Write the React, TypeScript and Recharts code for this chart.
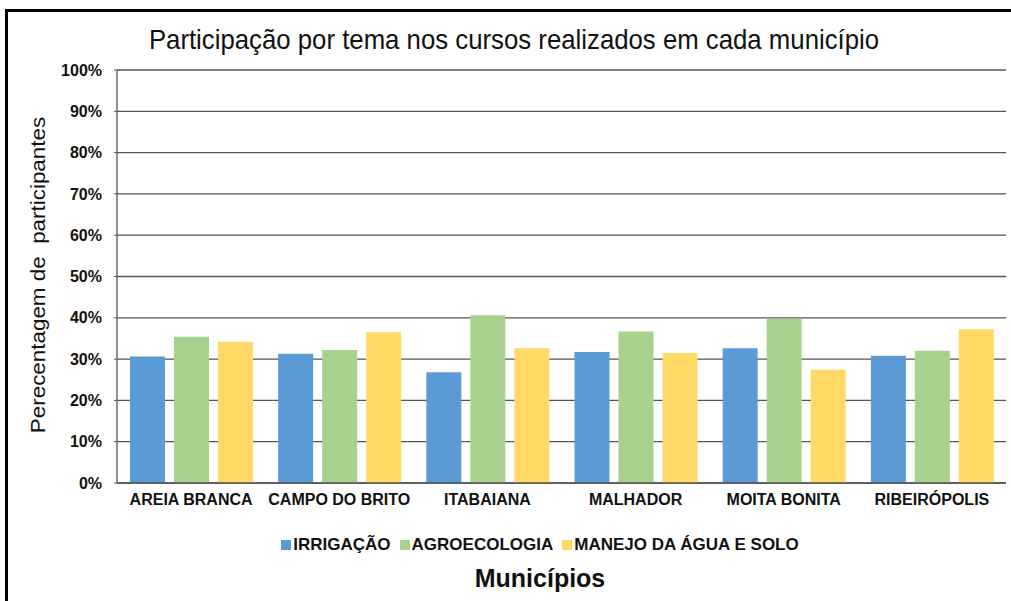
import { BarChart, Bar, XAxis, YAxis, CartesianGrid } from "recharts";

const municipios = [
  "AREIA BRANCA",
  "CAMPO DO BRITO",
  "ITABAIANA",
  "MALHADOR",
  "MOITA BONITA",
  "RIBEIRÓPOLIS",
];
const irrigacao = [30.6, 31.3, 26.8, 31.7, 32.6, 30.8];
const agroecologia = [35.4, 32.2, 40.6, 36.7, 39.8, 32.0];
const manejo = [34.2, 36.5, 32.6, 31.5, 27.4, 37.2];
const yTicks = [0, 10, 20, 30, 40, 50, 60, 70, 80, 90, 100];

const series = [
  { key: "irrigacao", name: "IRRIGAÇÃO", color: "#5B9BD5" },
  { key: "agroecologia", name: "AGROECOLOGIA", color: "#A9D18E" },
  { key: "manejo", name: "MANEJO DA ÁGUA E SOLO", color: "#FFD966" },
];

const data = municipios.map((m, i) => ({
  municipio: m,
  irrigacao: irrigacao[i],
  agroecologia: agroecologia[i],
  manejo: manejo[i],
}));

const sans = "'Liberation Sans', Arial, sans-serif";

function LegendRow() {
  return (
    <div
      style={{
        position: "absolute",
        left: 0,
        top: 535,
        width: 1080,
        display: "flex",
        justifyContent: "center",
        gap: 9,
        fontFamily: sans,
        fontWeight: "bold",
        fontSize: 17,
        color: "#111",
      }}
    >
      {series.map((s) => (
        <div key={s.key} style={{ display: "flex", alignItems: "center" }}>
          <span
            style={{
              display: "inline-block",
              width: 10,
              height: 10,
              background: s.color,
              marginRight: 2,
            }}
          />
          {s.name}
        </div>
      ))}
    </div>
  );
}

export default function App() {
  return (
    <div
      style={{
        position: "fixed",
        left: 0,
        top: 0,
        width: 1011,
        height: 601,
        background: "#fff",
        overflow: "hidden",
      }}
    >
      <div
        style={{
          position: "absolute",
          left: 5,
          top: 9,
          width: 1020,
          height: 620,
          border: "3px solid #000",
          boxSizing: "border-box",
        }}
      />
      <div
        style={{
          position: "absolute",
          left: 0,
          top: 24,
          width: 1028,
          textAlign: "center",
          fontFamily: sans,
          fontSize: 28,
          color: "#111",
          transform: "scaleX(0.92)",
        }}
      >
        Participação por tema nos cursos realizados em cada município
      </div>
      <div
        style={{
          position: "absolute",
          left: 38,
          top: 275,
          transform: "translate(-50%, -50%) rotate(-90deg) scaleX(1.12)",
          whiteSpace: "nowrap",
          fontFamily: sans,
          fontSize: 20,
          color: "#111",
        }}
      >
        Perecentagem de{"\u00a0\u00a0"}participantes
      </div>
      <div
        style={{
          position: "absolute",
          left: 0,
          top: 564,
          width: 1080,
          textAlign: "center",
          fontFamily: sans,
          fontWeight: "bold",
          fontSize: 25,
          color: "#111",
        }}
      >
        Municípios
      </div>
      <LegendRow />
      <BarChart
        width={1011}
        height={601}
        data={data}
        margin={{ top: 70, right: 5, left: 0, bottom: 88 }}
        barGap={9}
        barSize={35}
        style={{ position: "absolute", left: 0, top: 0 }}
      >
        <CartesianGrid vertical={false} stroke="#555" strokeWidth={1.3} />
        <XAxis
          dataKey="municipio"
          height={30}
          axisLine={{ stroke: "#555", strokeWidth: 1.5 }}
          tickLine={false}
          tick={{ fill: "#111", fontSize: 16, fontWeight: "bold", fontFamily: sans }}
          tickMargin={5}
        />
        <YAxis
          width={117}
          domain={[0, 100]}
          ticks={yTicks}
          tickFormatter={(v) => `${v}%`}
          axisLine={{ stroke: "#555", strokeWidth: 1.3 }}
          tickLine={{ stroke: "#555" }}
          tickSize={3}
          tickMargin={12}
          tick={{ fill: "#111", fontSize: 16, fontWeight: "bold", fontFamily: sans }}
        />
        {series.map((s) => (
          <Bar
            key={s.key}
            dataKey={s.key}
            name={s.name}
            fill={s.color}
            isAnimationActive={false}
          />
        ))}
      </BarChart>
    </div>
  );
}
